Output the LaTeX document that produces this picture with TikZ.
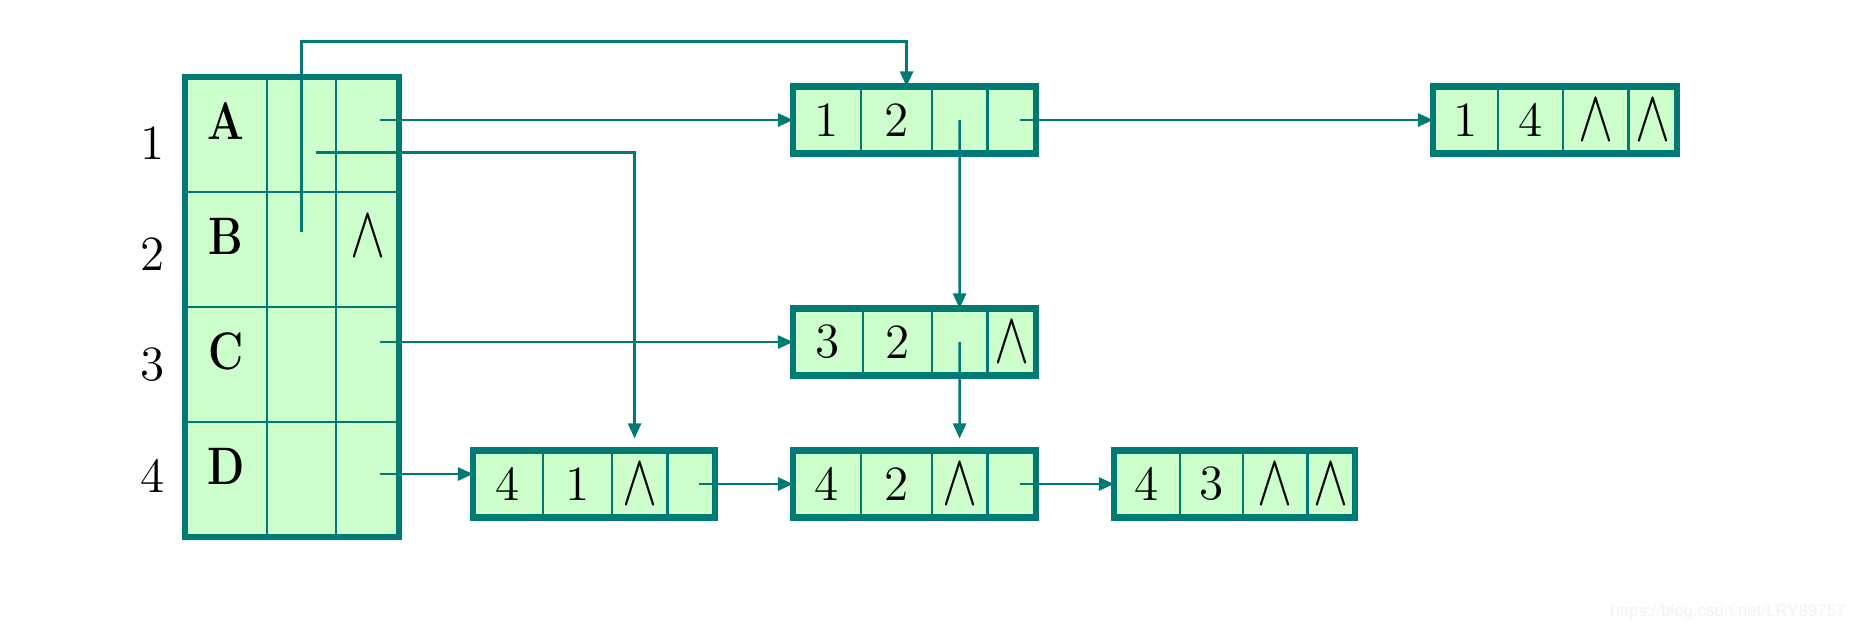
\documentclass[tikz,border=0pt]{standalone}
\usepackage{graphicx}
\usepackage{fontspec}
\newfontfamily\wmfont{Liberation Sans}
\usetikzlibrary{positioning,arrows.meta}
\definecolor{edge}{RGB}{0,122,116}
\definecolor{cellfill}{RGB}{204,255,204}
\newcommand{\nilptr}{\scalebox{0.72}[1]{\fontsize{20pt}{20pt}\selectfont$\wedge$}}

\begin{document}
\begin{tikzpicture}[x=0.01cm, y=-0.01cm,
		cell/.style = {rectangle, draw=edge, fill=cellfill, line width=0.8pt, outer sep=0pt, inner sep=0pt, minimum height=0.67cm, font=\fontsize{14pt}{17pt}\selectfont},
		vx/.style = {cell, minimum height=1.15cm, text depth=0.26cm},
		box/.style = {draw=edge, line width=1.8pt},
		ptr/.style = {-{Triangle[length=0.15cm, width=0.13cm]}, draw=edge, line width=0.7pt},
		num/.style = {font=\fontsize{14pt}{17pt}\selectfont}
		]
		\useasboundingbox (0,0) rectangle (1867,629);
		
		%Vertex table
		\foreach \r/\t/\n in {1/A/{}, 2/B/\nilptr, 3/C/{}, 4/D/{}} {
			\node[vx, minimum width=0.82cm]	(v\r1)	at	(226, 19.5+115*\r)	{\scalebox{0.82}[1]{\fontsize{15pt}{18pt}\selectfont\bfseries \t}};
			\node[vx, minimum width=0.69cm, right=0pt of v\r1]	(v\r2)	{};
			\node[vx, minimum width=0.63cm, right=0pt of v\r2]	(v\r3)	{\n};
			\node[num]	(r\r)	at	(153, 32+111*\r)	{\r};
		}
		\draw[box]	(v11.north west)	rectangle	(v43.south east);
		
		%Arc nodes
		\node[cell, minimum width=0.68cm]	(a1)	at	(827, 120)	{1};
		\node[cell, minimum width=0.71cm, right=0pt of a1]	(a2)	{2};
		\node[cell, minimum width=0.55cm, right=0pt of a2]	(a3)	{};
		\node[cell, minimum width=0.49cm, right=0pt of a3]	(a4)	{};
		\draw[box]	(a1.north west)	rectangle	(a4.south east);
		
		\node[cell, minimum width=0.65cm]	(e1)	at	(1465.5, 120)	{1};
		\node[cell, minimum width=0.65cm, right=0pt of e1]	(e2)	{4};
		\node[cell, minimum width=0.65cm, right=0pt of e2]	(e3)	{\nilptr};
		\node[cell, minimum width=0.49cm, right=0pt of e3]	(e4)	{\nilptr};
		\draw[box]	(e1.north west)	rectangle	(e4.south east);
		
		\node[cell, minimum width=0.70cm]	(c1)	at	(828, 342)	{3};
		\node[cell, minimum width=0.69cm, right=0pt of c1]	(c2)	{2};
		\node[cell, minimum width=0.55cm, right=0pt of c2]	(c3)	{};
		\node[cell, minimum width=0.49cm, right=0pt of c3]	(c4)	{\nilptr};
		\draw[box]	(c1.north west)	rectangle	(c4.south east);
		
		\node[cell, minimum width=0.70cm]	(b1)	at	(508, 484)	{4};
		\node[cell, minimum width=0.69cm, right=0pt of b1]	(b2)	{1};
		\node[cell, minimum width=0.55cm, right=0pt of b2]	(b3)	{\nilptr};
		\node[cell, minimum width=0.48cm, right=0pt of b3]	(b4)	{};
		\draw[box]	(b1.north west)	rectangle	(b4.south east);
		
		\node[cell, minimum width=0.68cm]	(d1)	at	(827, 484)	{4};
		\node[cell, minimum width=0.71cm, right=0pt of d1]	(d2)	{2};
		\node[cell, minimum width=0.55cm, right=0pt of d2]	(d3)	{\nilptr};
		\node[cell, minimum width=0.49cm, right=0pt of d3]	(d4)	{};
		\draw[box]	(d1.north west)	rectangle	(d4.south east);
		
		\node[cell, minimum width=0.66cm]	(f1)	at	(1147, 484)	{4};
		\node[cell, minimum width=0.63cm, right=0pt of f1]	(f2)	{3};
		\node[cell, minimum width=0.64cm, right=0pt of f2]	(f3)	{\nilptr};
		\node[cell, minimum width=0.48cm, right=0pt of f3]	(f4)	{\nilptr};
		\draw[box]	(f1.north west)	rectangle	(f4.south east);
		
		%Lines
		\draw[ptr]	([xshift=0.12cm]v13.center |- a1.center)	--	(a1.west);
		\draw[ptr]	([xshift=0.14cm, yshift=-0.18cm]v12.center)	-|	([xshift=-0.05cm, yshift=0.12cm]b3.north);
		\draw[ptr]	([yshift=0.18cm]v22.center)	|-	([xshift=0.1cm, yshift=0.45cm]a2.north)	--	([xshift=0.1cm]a2.north);
		\draw[ptr]	([xshift=0.12cm]v33.center |- c1.center)	--	(c1.west);
		\draw[ptr]	([xshift=0.12cm, yshift=0.1cm]v43.center |- b1.center)	--	([yshift=0.1cm]b1.west);
		\draw[ptr]	(a3.center)	--	(c3.north);
		\draw[ptr]	([xshift=0.08cm]a4.center)	--	(e1.west);
		\draw[ptr]	(c3.center)	--	([yshift=0.12cm]d3.north);
		\draw[ptr]	([xshift=0.08cm]b4.center)	--	(d1.west);
		\draw[ptr]	([xshift=0.08cm]d4.center)	--	(f1.west);
		
		\node[font=\wmfont\fontsize{4.8pt}{6pt}\selectfont, text=gray!10, anchor=east]	(wm)	at	(1858, 612)	{https://blog.csdn.net/LRY89757};
	\end{tikzpicture}
\end{document}
